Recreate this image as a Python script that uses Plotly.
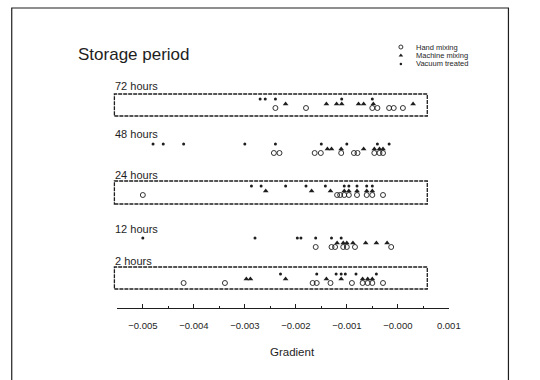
import plotly.graph_objects as go

# ---------------- data (gradient values) ----------------
rows = ["72 hours", "48 hours", "24 hours", "12 hours", "2 hours"]

hand_72 = [-0.0024, -0.0018, -0.0005, -0.0004, -0.00017, -0.00008, 0.0001]
machine_72 = [-0.0022, -0.0014, -0.0012, -0.0011, -0.00077, -0.00067, -0.00048, 0.0003]
vacuum_72 = [-0.0027, -0.0026, -0.0024, -0.0011, -0.0005]

hand_48 = [-0.00243, -0.00232, -0.00163, -0.00151, -0.00111, -0.00086, -0.00079, -0.00046, -0.00036, -0.00029]
machine_48 = [-0.00138, -0.0013, -0.00111, -0.00067, -0.00046, -0.00036, -0.00029]
vacuum_48 = [-0.0048, -0.0046, -0.0042, -0.003, -0.0024, -0.0015, -0.001, -0.0004, -0.00017]

hand_24 = [-0.005, -0.00119, -0.00113, -0.00105, -0.00096, -0.0008, -0.00061, -0.0005, -0.00029]
machine_24 = [-0.00259, -0.00169, -0.00132, -0.00105, -0.00096, -0.0008, -0.00061, -0.0005]
vacuum_24 = [-0.00287, -0.00268, -0.0022, -0.0018, -0.00142, -0.00105, -0.00096, -0.0008, -0.00061, -0.0005]

hand_12 = [-0.00161, -0.0013, -0.00123, -0.00107, -0.001, -0.00084, -0.00013]
machine_12 = [-0.00119, -0.00107, -0.001, -0.00088, -0.00063, -0.00042, -0.00021]
vacuum_12 = [-0.005, -0.0028, -0.00197, -0.0019, -0.00161, -0.0013, -0.00111]

hand_2 = [-0.0042, -0.00339, -0.00167, -0.00159, -0.00132, -0.0009, -0.00069, -0.00059, -0.0005, -0.00029]
machine_2 = [-0.00297, -0.00289, -0.0022, -0.0014, -0.00111, -0.00069, -0.00059, -0.0005]
vacuum_2 = [-0.0023, -0.00159, -0.00121, -0.00111, -0.00103, -0.00082, -0.00042]

series_names = ["Hand mixing", "Machine mixing", "Vacuum treated"]
series_data = {
    "Hand mixing": [hand_72, hand_48, hand_24, hand_12, hand_2],
    "Machine mixing": [machine_72, machine_48, machine_24, machine_12, machine_2],
    "Vacuum treated": [vacuum_72, vacuum_48, vacuum_24, vacuum_12, vacuum_2],
}

x_ticks = [-0.005, -0.004, -0.003, -0.002, -0.001, 0.0, 0.001]
x_ticklabels = ["\u22120.005", "\u22120.004", "\u22120.003", "\u22120.002", "\u22120.001", "\u22120.000", "0.001"]

# ---------------- layout (pixel positions of the 540x380 page) ----------------
W, H = 540, 380
INK = "#1e1e1e"
FONT = "Liberation Sans, Arial, sans-serif"

row_base_px = {"72 hours": 104, "48 hours": 149, "24 hours": 191, "12 hours": 243, "2 hours": 279}
series_offset_px = {"Hand mixing": 4, "Machine mixing": 0, "Vacuum treated": -5}
row_label_px = {"72 hours": 86, "48 hours": 134, "24 hours": 175, "12 hours": 229, "2 hours": 261}
box_px = {"72 hours": (94, 116), "24 hours": (181, 204), "2 hours": (267, 289)}
box_x_px = (117, 437)
axis_y_px = 308

styles = {
    "Hand mixing": dict(symbol="circle-open", size=5, color=INK, line=dict(width=0.9, color=INK)),
    "Machine mixing": dict(symbol="triangle-up", size=5, color=INK, line=dict(width=0)),
    "Vacuum treated": dict(symbol="circle", size=3, color=INK, line=dict(width=0)),
}

def px_x(p):
    return p / W

def px_y(p):
    return 1 - p / H

fig = go.Figure()

for name in series_names:
    xs, ys = [], []
    for row, vals in zip(rows, series_data[name]):
        for v in vals:
            xs.append(v)
            ys.append(row_base_px[row] + series_offset_px[name])
    fig.add_trace(go.Scatter(x=xs, y=ys, mode="markers", name=name,
                             marker=styles[name], showlegend=False,
                             xaxis="x", yaxis="y"))

# manual legend keys (page-pixel overlay axis)
legend_key_x = 410
legend_text_x = 424
legend_rows_px = [47, 55.5, 64]
legend_sizes = {"Hand mixing": 4, "Machine mixing": 4, "Vacuum treated": 2.5}
for name, ly in zip(series_names, legend_rows_px):
    st = dict(styles[name])
    st["size"] = legend_sizes[name]
    fig.add_trace(go.Scatter(x=[legend_key_x], y=[ly], mode="markers", marker=st,
                             showlegend=False, xaxis="x2", yaxis="y", hoverinfo="skip"))
    fig.add_annotation(x=px_x(legend_text_x), y=px_y(ly), xref="paper", yref="paper",
                       text=name, showarrow=False, xanchor="left", yanchor="middle",
                       borderpad=0, font=dict(family=FONT, size=7.5, color=INK))

# row labels
for row in rows:
    fig.add_annotation(x=px_x(box_x_px[0]), y=px_y(row_label_px[row]), xref="paper", yref="paper",
                       text=row, showarrow=False, xanchor="left", yanchor="middle",
                       borderpad=0, font=dict(family=FONT, size=11, color=INK))

# boxes
for row, (y0, y1) in box_px.items():
    fig.add_shape(type="rect", xref="paper", yref="paper",
                  x0=px_x(box_x_px[0]), x1=px_x(box_x_px[1]), y0=px_y(y1), y1=px_y(y0),
                  line=dict(color=INK, width=1.3, dash="4px,1px"), fillcolor="rgba(0,0,0,0)")

# outer frame
fig.add_shape(type="rect", xref="paper", yref="paper",
              x0=px_x(12), x1=px_x(520), y0=-0.2, y1=px_y(8),
              line=dict(color=INK, width=1.2), fillcolor="rgba(0,0,0,0)", layer="below")

# titles
fig.add_annotation(x=px_x(79), y=px_y(54), xref="paper", yref="paper", text="Storage period",
                   showarrow=False, xanchor="left", yanchor="middle", borderpad=0,
                   font=dict(family=FONT, size=17, color=INK))
fig.add_annotation(x=px_x(299), y=px_y(352), xref="paper", yref="paper", text="Gradient",
                   showarrow=False, xanchor="center", yanchor="middle", borderpad=0,
                   font=dict(family=FONT, size=11.5, color=INK))

fig.update_layout(
    width=W, height=H, autosize=False,
    margin=dict(l=0, r=0, t=0, b=0),
    paper_bgcolor="white", plot_bgcolor="rgba(0,0,0,0)",
    showlegend=False,
    xaxis=dict(domain=[120 / W, 459 / W], range=[-0.0055, 0.001], anchor="free",
               position=px_y(axis_y_px), showgrid=False, zeroline=False,
               showline=True, linecolor=INK, linewidth=1.2,
               tickmode="array", tickvals=x_ticks, ticktext=x_ticklabels,
               ticks="inside", ticklen=4, tickwidth=1, tickcolor=INK,
               minor=dict(ticks="inside", ticklen=2, dtick=0.0005, tickcolor=INK, showgrid=False),
               ticklabelstandoff=8,
               tickfont=dict(family=FONT, size=9.5, color=INK)),
    xaxis2=dict(domain=[0, 1], range=[0, W], anchor="y", visible=False),
    yaxis=dict(domain=[0, 1], range=[H, 0], visible=False),
    font=dict(family=FONT, color=INK),
)

fig.write_html("out.html",
               config={"displayModeBar": False, "responsive": False},
               post_script="document.body.style.margin='0';document.body.style.overflow='hidden';")
